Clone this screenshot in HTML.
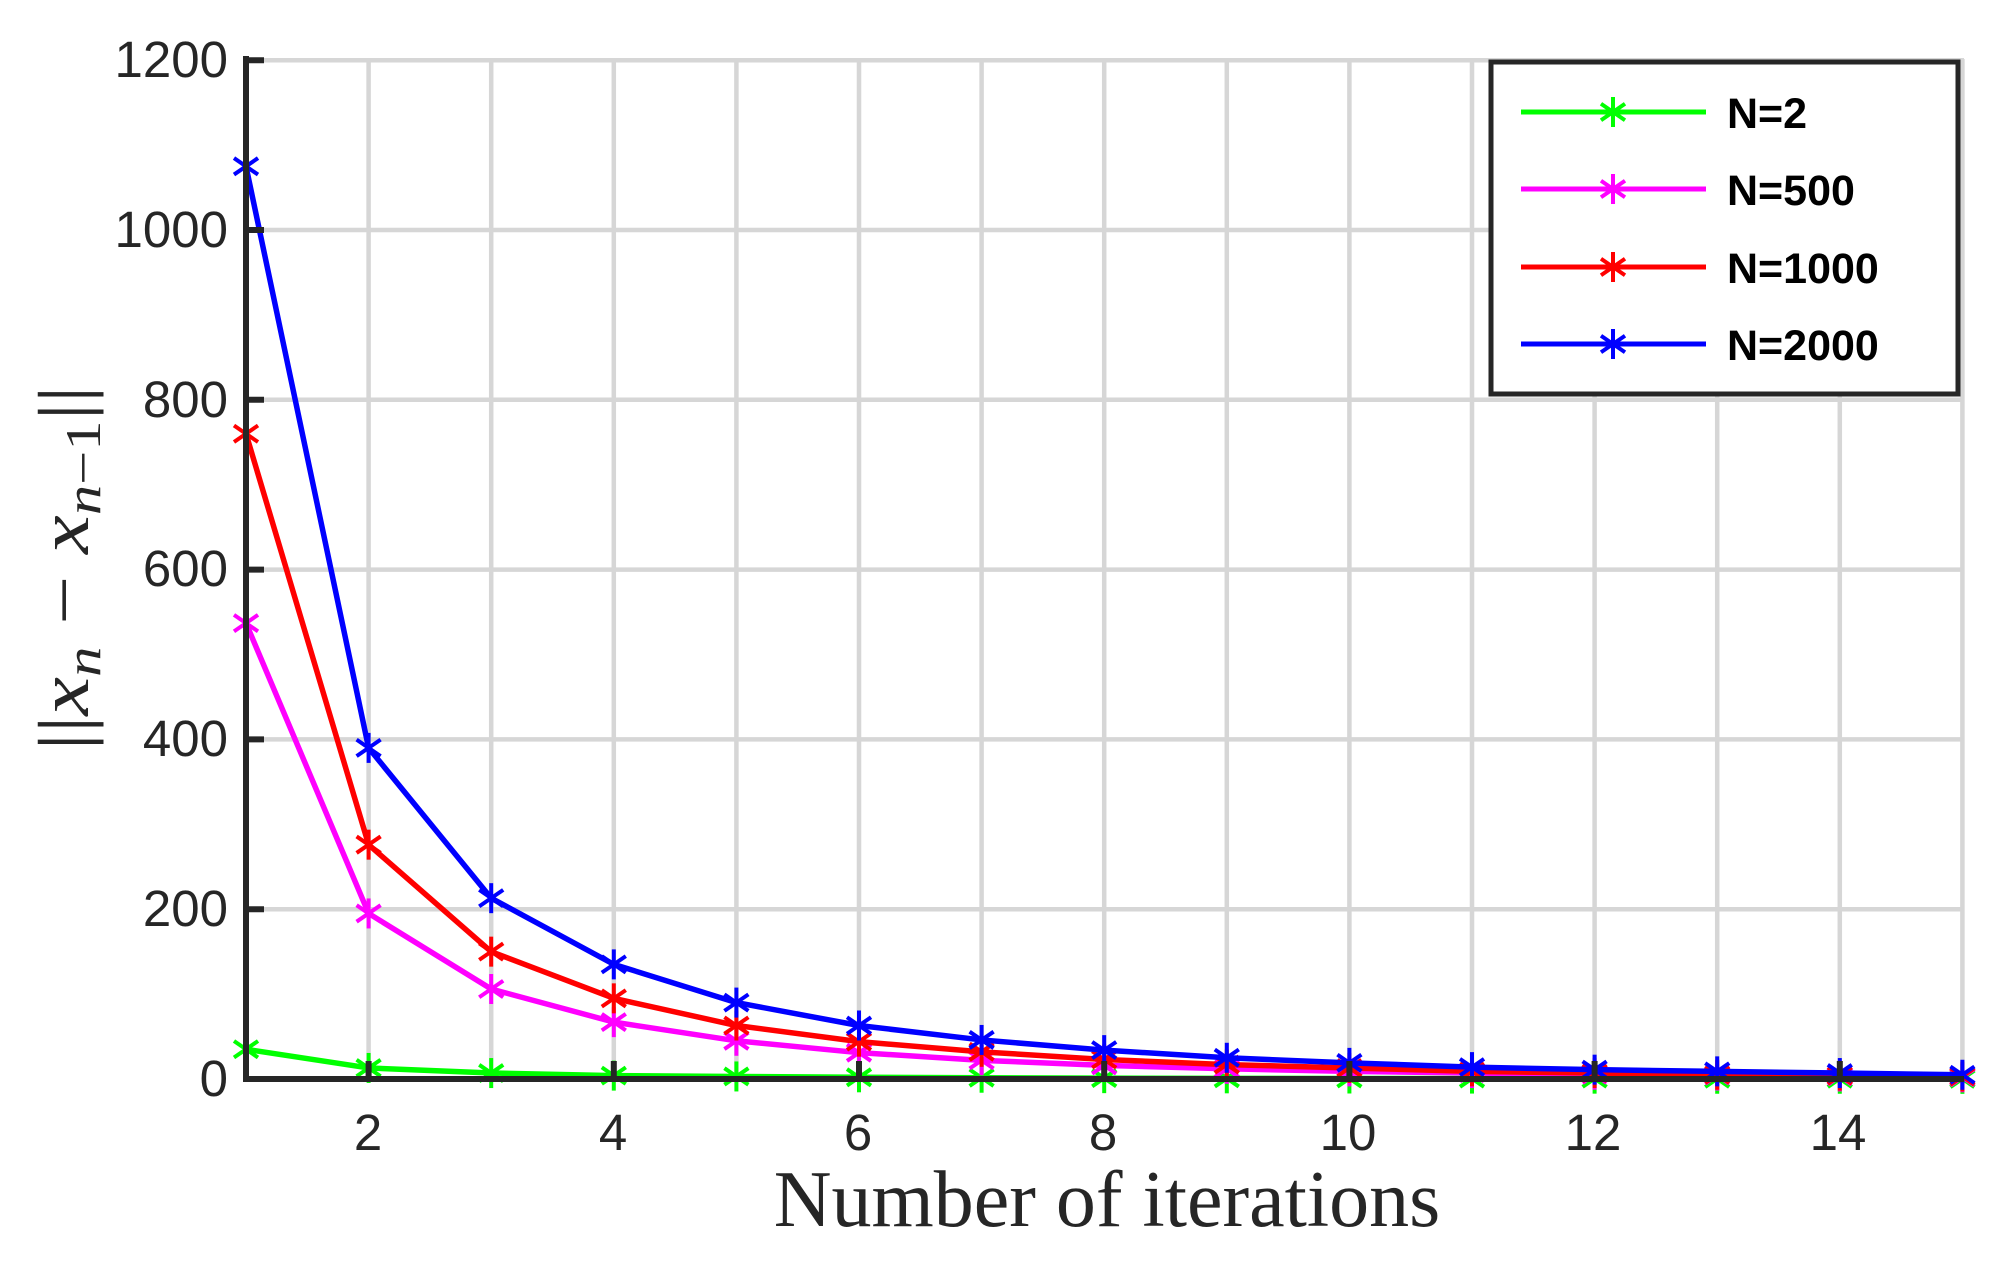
<!DOCTYPE html>
<html><head><meta charset="utf-8"><style>
html,body{margin:0;padding:0;background:#fff;}
svg{display:block;}
.tk{font-family:"Liberation Sans",sans-serif;font-size:51px;fill:#262626;}
.lg{font-family:"Liberation Sans",sans-serif;font-size:43px;font-weight:bold;fill:#000;}
</style></head><body>
<svg id="s" width="2007" height="1269" viewBox="0 0 2007 1269" xmlns="http://www.w3.org/2000/svg">
<rect width="2007" height="1269" fill="#fff"/>
<g id="grid" stroke="#d6d6d6" stroke-width="4.5"></g>
<g id="series" fill="none" stroke-width="5.5" stroke-linejoin="round"></g>
<g stroke="#262626" stroke-width="6" fill="none">
<line x1="246" y1="56" x2="246" y2="1082"/>
<line x1="243" y1="1079" x2="1964" y2="1079"/>
</g>
<g id="ticks" stroke="#262626" stroke-width="6"></g>
<g class="tk" text-anchor="end">
<text x="228" y="77">1200</text>
<text x="228" y="247">1000</text>
<text x="228" y="417">800</text>
<text x="228" y="586">600</text>
<text x="228" y="756">400</text>
<text x="228" y="926">200</text>
<text x="228" y="1096">0</text>
</g>
<g class="tk" text-anchor="middle">
<text x="368" y="1150">2</text>
<text x="613" y="1150">4</text>
<text x="858" y="1150">6</text>
<text x="1103" y="1150">8</text>
<text x="1348" y="1150">10</text>
<text x="1593" y="1150">12</text>
<text x="1838" y="1150">14</text>
</g>
<text x="1107" y="1226" text-anchor="middle" font-family="'Liberation Serif',serif" font-size="80" fill="#262626">Number of iterations</text>
<text transform="translate(88,568) rotate(-90)" text-anchor="middle" font-family="'Liberation Serif',serif" font-size="72" fill="#262626" textLength="365" lengthAdjust="spacingAndGlyphs">||<tspan font-style="italic">x</tspan><tspan font-style="italic" font-size="50" dy="12">n</tspan><tspan dy="-12"> − </tspan><tspan font-style="italic">x</tspan><tspan font-size="50" dy="12"><tspan font-style="italic">n</tspan>−1</tspan><tspan dy="-12">||</tspan></text>
<rect x="1491" y="62" width="467" height="332" fill="#fff" stroke="#262626" stroke-width="5"/>
<g id="leg" stroke-width="5"></g>
<g class="lg">
<text x="1727" y="128">N=2</text>
<text x="1727" y="205">N=500</text>
<text x="1727" y="283">N=1000</text>
<text x="1727" y="360">N=2000</text>
</g>
</svg>
<script>
var NS="http://www.w3.org/2000/svg";
function el(p,t,a){var e=document.createElementNS(NS,t);for(var k in a)e.setAttribute(k,a[k]);p.appendChild(e);return e;}
function X(i){return 246+(i-1)*122.6;}
function Y(v){return 1079-v*0.849;}
var g=document.getElementById('grid');
for(var i=2;i<=15;i++)el(g,'line',{x1:X(i),y1:59,x2:X(i),y2:1079});
for(var v=200;v<=1200;v+=200)el(g,'line',{x1:246,y1:Y(v),x2:1964,y2:Y(v)});
var tk=document.getElementById('ticks');
for(var v=0;v<=1200;v+=200)el(tk,'line',{x1:246,y1:Y(v),x2:264,y2:Y(v)});
for(var i=2;i<=14;i+=2)el(tk,'line',{x1:X(i),y1:1079,x2:X(i),y2:1061});
var D=[
["#00ff00",[35,13,7,4,3,2,1.5,1,0.8,0.6,0.5,0.4,0.3,0.3,0.2]],
["#ff00ff",[537,195,106,67,45,31,22,16,12,9,7,5,4,3,2]],
["#ff0000",[760,276,150,95,63,44,32,23,17,13,9,7,5,4,3]],
["#0000ff",[1075,390,213,135,90,63,46,34,25,19,14,11,9,7,5]]];
var s=document.getElementById('series');
function star(p,x,y,c){var r=15,d=r*0.8,h=r*0.55;
 el(p,'line',{x1:x,y1:y-r,x2:x,y2:y+r,stroke:c,'stroke-width':4});
 el(p,'line',{x1:x-d,y1:y-h,x2:x+d,y2:y+h,stroke:c,'stroke-width':4});
 el(p,'line',{x1:x-d,y1:y+h,x2:x+d,y2:y-h,stroke:c,'stroke-width':4});}
D.forEach(function(d){var pts=d[1].map(function(v,i){return X(i+1)+','+Y(v);}).join(' ');
 el(s,'polyline',{points:pts,stroke:d[0]});
 d[1].forEach(function(v,i){star(s,X(i+1),Y(v),d[0]);});});
var lg=document.getElementById('leg');var ys=[112,189,267,344];
D.forEach(function(d,k){el(lg,'line',{x1:1521,y1:ys[k],x2:1706,y2:ys[k],stroke:d[0]});star(lg,1613,ys[k],d[0]);});
</script>
</body></html>
